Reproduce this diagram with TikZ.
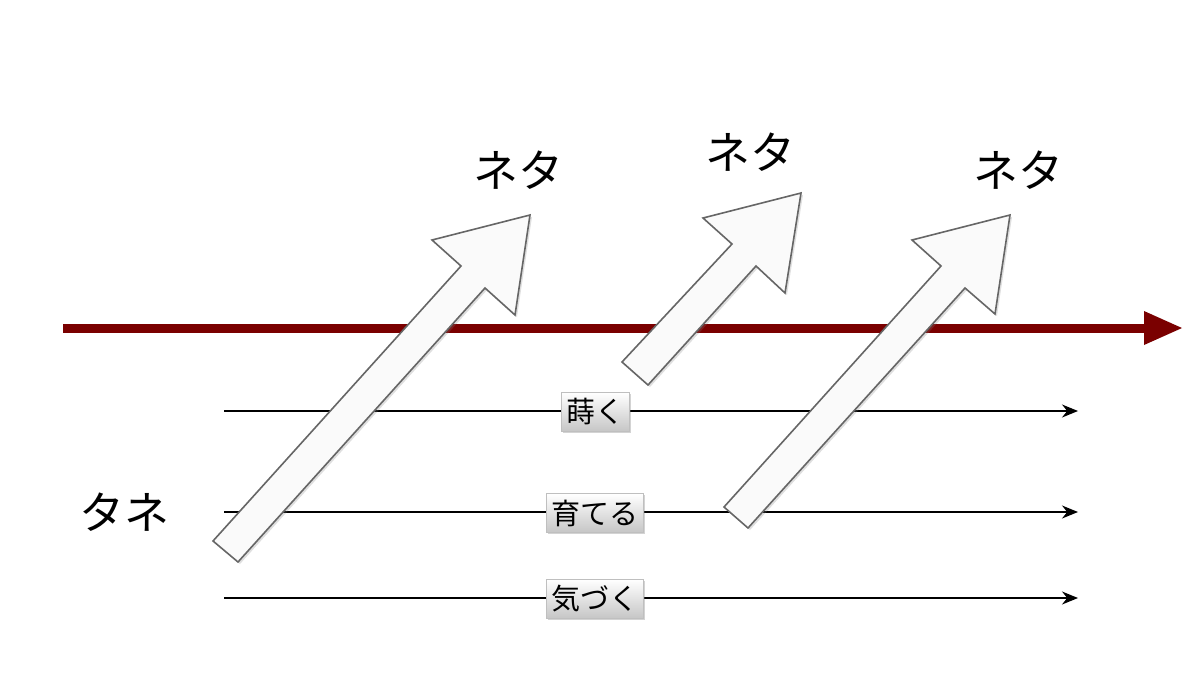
\documentclass[tikz,border=0pt]{standalone}
\usepackage{fontspec}
\newfontfamily\jp{Noto Sans CJK JP}
\usetikzlibrary{shadows,arrows.meta}
\begin{document}
\begin{tikzpicture}[x=1pt,y=-1pt,
  blk/.style={draw=gray!80!black,line width=1.6pt,fill=gray!4,line join=miter,drop shadow={shadow xshift=2pt,shadow yshift=-2pt,opacity=0.25}},
  lbl/.style={font=\jp\fontsize{29}{29}\selectfont,inner xsep=5pt,inner ysep=6pt,top color=white,bottom color=gray!45,draw=gray!50,drop shadow={shadow xshift=1.5pt,shadow yshift=-1.5pt,opacity=0.35}},
  big/.style={font=\jp\fontsize{45}{45}\selectfont},
  line/.style={line width=1.5pt,-{Stealth[length=16pt,width=13pt]}}]
\useasboundingbox (0,0) rectangle (1196,694);
\definecolor{dred}{RGB}{122,0,0}
\coordinate (rs) at (63,328); \coordinate (re) at (1148,328);
\draw[dred,line width=9pt] (rs) -- (re);
\fill[dred] (1144,311) -- (1182,328) -- (1144,345) -- cycle;
\foreach \y/\n in {411/a,512/b,598/c}{
  \coordinate (s\n) at (224,\y); \coordinate (e\n) at (1078,\y);
  \draw[line] (s\n) -- (e\n);}
\draw[blk] (213,541) -- (461,266) -- (432,240) -- (530,215) -- (515,315) -- (485,288) -- (238,562) -- cycle;
\draw[blk] (622,362) -- (732,244) -- (703,218) -- (801,193) -- (785,293) -- (756,266) -- (648,385) -- cycle;
\draw[blk] (724,507) -- (941,266) -- (912,240) -- (1010,215) -- (995,314) -- (965,288) -- (748,528) -- cycle;
\node[lbl] (l1) at (595,412) {蒔く};
\node[lbl] (l2) at (595,513) {育てる};
\node[lbl] (l3) at (595,599) {気づく};
\node[big] (n1) at (518,170) {ネタ};
\node[big] (n2) at (750,152) {ネタ};
\node[big] (n3) at (1018,170) {ネタ};
\node[big] (t) at (124,512) {タネ};
\end{tikzpicture}
\end{document}
